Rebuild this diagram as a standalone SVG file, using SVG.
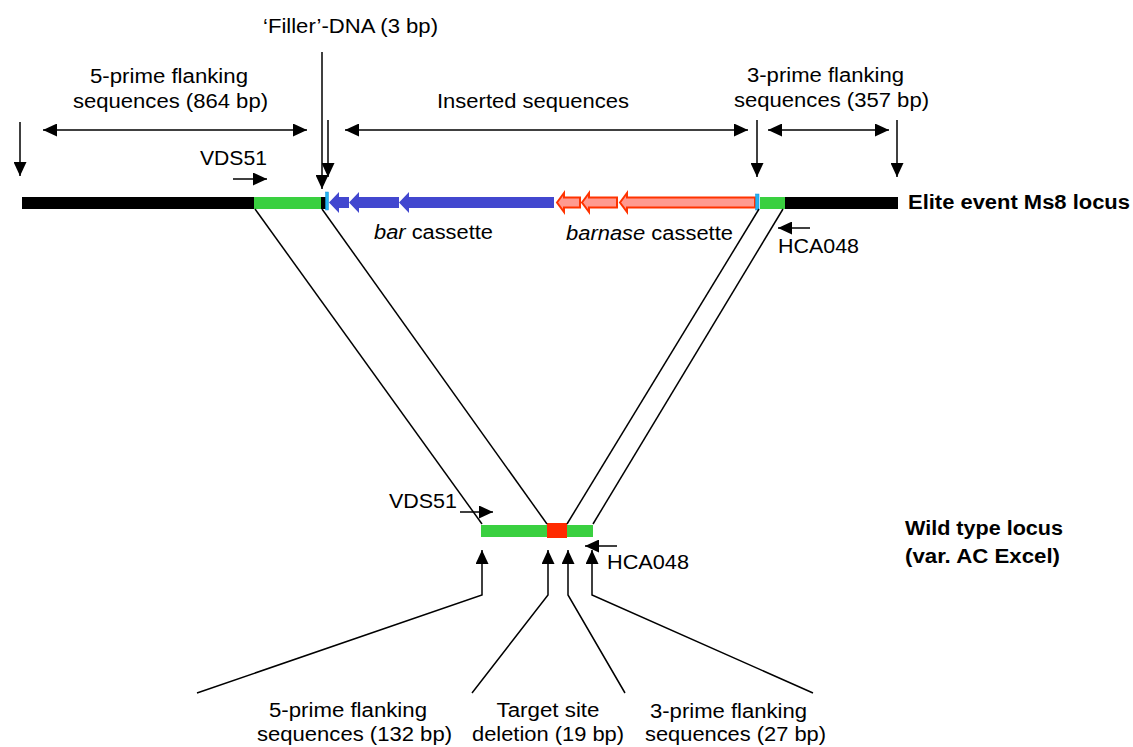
<svg xmlns="http://www.w3.org/2000/svg" width="1133" height="747" viewBox="0 0 1133 747">
<style>
text{font-family:"Liberation Sans",Arial,sans-serif;font-size:19.5px;fill:#000}
.b{font-weight:bold}
.m{text-anchor:middle}
.ln{stroke:#000;stroke-width:1.5;fill:none}
.arr{stroke:#000;stroke-width:1.5;fill:none;marker-end:url(#ah)}
.dbl{stroke:#000;stroke-width:1.5;fill:none;marker-end:url(#ah);marker-start:url(#ah)}
.blue{fill:#4247cf}
.red{fill:#ff9a90;stroke:#ff3300;stroke-width:2}
.cyan{fill:#22b4f0;stroke:#1a8fe0;stroke-width:0.5}
.green{fill:#3ad040}
</style>
<defs>
<marker id="ah" markerUnits="userSpaceOnUse" markerWidth="15" markerHeight="13" refX="14" refY="6.5" orient="auto-start-reverse">
<path d="M0,0 L14,6.5 L0,13 z" fill="#000"/>
</marker>
</defs>
<rect width="1133" height="747" fill="#fff"/>

<g id="elite-locus">
<rect x="22" y="197" width="233" height="12" fill="#000"/>
<rect x="254" y="197" width="68" height="12" class="green"/>
<rect x="321" y="197" width="5" height="12" fill="#000"/>
<rect x="325.5" y="192" width="3" height="18" class="cyan"/>
<polygon class="blue" points="329,202.5 339,192 339,197 349,197 349,208 339,208 339,213"/>
<polygon class="blue" points="349,202.5 359,192 359,197 399,197 399,208 359,208 359,213"/>
<polygon class="blue" points="399,202.5 409,192 409,197 554,197 554,208 409,208 409,213"/>
<polygon class="red" points="557,202.5 564,193 564,197.5 580,197.5 580,207.5 564,207.5 564,212"/>
<polygon class="red" points="582,202.5 589,193 589,197.5 617,197.5 617,207.5 589,207.5 589,212"/>
<polygon class="red" points="620,202.5 627,193 627,197.5 755,197.5 755,207.5 627,207.5 627,212"/>
<rect x="755.5" y="194" width="3.5" height="16" class="cyan"/>
<rect x="760" y="197" width="26" height="12" class="green"/>
<rect x="785" y="197" width="113" height="12" fill="#000"/>
</g>

<g id="wildtype-locus">
<rect x="481" y="525" width="67" height="12" class="green"/>
<rect x="547" y="523" width="20" height="15" fill="#ff2a00"/>
<rect x="567" y="525" width="26" height="12" class="green"/>
</g>

<g id="connectors">
<line class="ln" x1="255" y1="209" x2="482" y2="524"/>
<line class="ln" x1="322" y1="209" x2="547" y2="524"/>
<line class="ln" x1="759" y1="209" x2="567" y2="524"/>
<line class="ln" x1="783" y1="209" x2="593" y2="524"/>
<line class="arr" x1="20" y1="122" x2="20" y2="176"/>
<line class="arr" x1="322" y1="52" x2="322" y2="189"/>
<line class="arr" x1="328" y1="120" x2="328" y2="177"/>
<line class="arr" x1="757" y1="120" x2="757" y2="177"/>
<line class="arr" x1="897" y1="120" x2="897" y2="177"/>
<line class="dbl" x1="43" y1="130" x2="307" y2="130"/>
<line class="dbl" x1="345" y1="130" x2="748" y2="130"/>
<line class="dbl" x1="768" y1="130" x2="889" y2="130"/>
<line class="arr" x1="233" y1="179" x2="267" y2="179"/>
<line class="arr" x1="810" y1="228" x2="778" y2="228"/>
<line class="arr" x1="460" y1="512" x2="493" y2="512"/>
<line class="arr" x1="617" y1="546" x2="585" y2="546"/>
<polyline class="arr" points="197,693 482,595 482,550"/>
<polyline class="arr" points="472,693 548,595 548,550"/>
<polyline class="arr" points="625,693 568,595 568,550"/>
<polyline class="arr" points="813,693 592,595 592,550"/>
</g>

<g id="labels-top">
<text x="263" y="33" textLength="175" lengthAdjust="spacingAndGlyphs">‘Filler’-DNA (3 bp)</text>
<text x="90" y="83" textLength="158" lengthAdjust="spacingAndGlyphs">5-prime flanking</text>
<text x="73" y="108" textLength="195" lengthAdjust="spacingAndGlyphs">sequences (864 bp)</text>
<text x="437" y="108" textLength="192" lengthAdjust="spacingAndGlyphs">Inserted sequences</text>
<text x="747" y="82" textLength="157" lengthAdjust="spacingAndGlyphs">3-prime flanking</text>
<text x="734" y="107" textLength="195" lengthAdjust="spacingAndGlyphs">sequences (357 bp)</text>
<text x="200" y="165" textLength="67" lengthAdjust="spacingAndGlyphs">VDS51</text>
<text x="374" y="239" textLength="119" lengthAdjust="spacingAndGlyphs"><tspan font-style="italic">bar</tspan> cassette</text>
<text x="566" y="240" textLength="167" lengthAdjust="spacingAndGlyphs"><tspan font-style="italic">barnase</tspan> cassette</text>
<text x="778" y="253" textLength="81" lengthAdjust="spacingAndGlyphs">HCA048</text>
<text class="b" x="908" y="209" textLength="222" lengthAdjust="spacingAndGlyphs">Elite event Ms8 locus</text>
</g>

<g id="labels-bottom">
<text x="389" y="508" textLength="68" lengthAdjust="spacingAndGlyphs">VDS51</text>
<text x="607" y="569" textLength="82" lengthAdjust="spacingAndGlyphs">HCA048</text>
<text class="b" x="905" y="535" textLength="158" lengthAdjust="spacingAndGlyphs">Wild type locus</text>
<text class="b" x="905" y="563" textLength="155" lengthAdjust="spacingAndGlyphs">(var. AC Excel)</text>
<text x="269" y="717" textLength="158" lengthAdjust="spacingAndGlyphs">5-prime flanking</text>
<text x="257" y="741" textLength="195" lengthAdjust="spacingAndGlyphs">sequences (132 bp)</text>
<text class="m" x="548" y="717" textLength="103" lengthAdjust="spacingAndGlyphs">Target site</text>
<text class="m" x="548" y="741" textLength="152" lengthAdjust="spacingAndGlyphs">deletion (19 bp)</text>
<text x="650" y="718" textLength="157" lengthAdjust="spacingAndGlyphs">3-prime flanking</text>
<text x="645" y="741" textLength="181" lengthAdjust="spacingAndGlyphs">sequences (27 bp)</text>
</g>
</svg>
